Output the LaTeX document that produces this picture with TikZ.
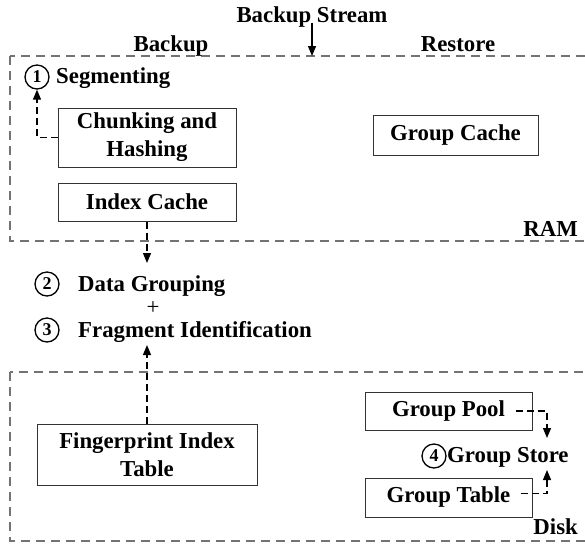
\documentclass[tikz,border=0pt]{standalone}
\usepackage{fontspec}
\setmainfont{Liberation Serif}
\usetikzlibrary{arrows.meta}
\begin{document}
\begin{tikzpicture}[x=1pt,y=-1pt,
  lbl/.style={inner sep=0pt, font=\fontsize{22.8}{28}\selectfont\bfseries, text height=0.7em, text depth=0pt},
  box/.style={draw=black!80, line width=1pt, inner sep=0pt, align=center, font=\fontsize{22.8}{28}\selectfont\bfseries},
  num/.style={draw=black, line width=1.3pt, circle, inner sep=0pt, minimum size=24pt, font=\fontsize{18}{18}\selectfont\bfseries},
  region/.style={draw=black!55, line width=1.2pt, dash pattern=on 9pt off 6pt},
  arr/.style={line width=1.2pt, -{Triangle[length=10pt,width=8pt]}},
  darr/.style={line width=1.2pt, dash pattern=on 7pt off 4pt, -{Triangle[length=10pt,width=8pt]}}
]
\clip (0,0) rectangle (585,547);
% regions
\draw[region] (10,56) rectangle (600,241);
\draw[region] (10,372) rectangle (600,541);
% top labels
\node[lbl] (bs) at (312,19) {Backup Stream};
\coordinate (ramtop) at (312,56);
\draw[arr] (bs) -- (ramtop);
\node[lbl] (bk) at (171,47.5) {Backup};
\node[lbl] (rs) at (458,47.5) {Restore};
\node[lbl, anchor=east] (ram) at (578,232.5) {RAM};
% RAM content
\node[num] (c1) at (37,77) {1};
\node[lbl, anchor=west] (seg) at (56,80) {Segmenting};
\node[box, minimum width=178pt, minimum height=59pt] (ch) at (147,137.5) {Chunking and\\Hashing};
\draw[darr] (ch.west) -| (c1.south);
\node[box, minimum width=178pt, minimum height=38pt] (ic) at (147,202) {Index Cache};
\node[box, minimum width=165pt, minimum height=40pt] (gc) at (455.5,135) {Group Cache};
% middle
\coordinate (dgin) at (147,263);
\draw[darr] (ic.south) -- (dgin);
\node[num] (c2) at (47,284) {2};
\node[lbl, anchor=west] (dg) at (78,287.5) {Data Grouping};
\node[lbl, font=\fontsize{22.8}{28}\selectfont\mdseries] (plus) at (153,310.5) {+};
\node[num] (c3) at (47,330) {3};
\node[lbl, anchor=west] (fi) at (78,333.5) {Fragment Identification};
% Disk content
\node[box, minimum width=220pt, minimum height=61pt] (fp) at (147,454.5) {Fingerprint Index\\Table};
\coordinate (fiin) at (147,345);
\draw[darr] (fp.north) -- (fiin);
\node[box, minimum width=167pt, minimum height=38pt] (gp) at (448.5,411) {Group Pool};
\node[box, minimum width=167pt, minimum height=39pt] (gt) at (448.5,497.5) {Group Table};
\node[num] (c4) at (434,456) {4};
\node[lbl, anchor=west] (gs) at (447,459) {Group Store};
\coordinate (gsin1) at (547,438);
\coordinate (gsin2) at (547,470);
\draw[darr] ([xshift=-17pt]gp.east) -| (gsin1);
\draw[darr] ([xshift=-12pt,yshift=4pt]gt.east) -| (gsin2);
\node[lbl, anchor=east] (dk) at (578,530.5) {Disk};
\end{tikzpicture}
\end{document}
